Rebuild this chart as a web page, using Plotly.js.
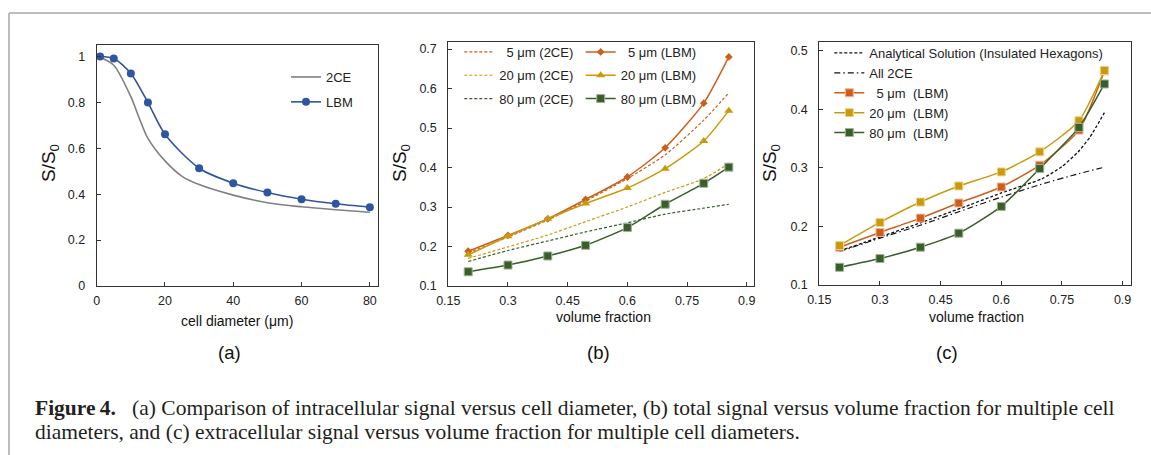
<!DOCTYPE html>
<html>
<head>
<meta charset="utf-8">
<script src="https://cdn.plot.ly/plotly-3.0.1.min.js"></script>
<style>
  html, body { margin: 0; padding: 0; background: #ffffff; }
  #chart { width: 1151px; height: 455px; }
</style>
</head>
<body>
<div id="chart"></div>
<script>
// ---------- Data ----------
// Panel (a): signal vs cell diameter
const diamLBM = [1, 5, 10, 15, 20, 30, 40, 50, 60, 70, 80];
const lbmA    = [1.0, 0.991, 0.926, 0.799, 0.661, 0.513, 0.448, 0.407, 0.378, 0.358, 0.343];
const diam2CE = [1, 5, 10, 12.5, 15, 20, 25, 30, 40, 50, 60, 70, 80];
const ce2A    = [0.997, 0.962, 0.825, 0.73, 0.643, 0.545, 0.478, 0.442, 0.396, 0.363, 0.345, 0.332, 0.321];

// Panel (b): total signal vs volume fraction
const volFrac = [0.2, 0.3, 0.4, 0.495, 0.6, 0.695, 0.792, 0.855];
const lbm5B  = [0.188, 0.228, 0.270, 0.319, 0.376, 0.450, 0.563, 0.680];
const lbm20B = [0.179, 0.226, 0.270, 0.309, 0.348, 0.397, 0.467, 0.544];
const lbm80B = [0.136, 0.153, 0.176, 0.203, 0.248, 0.307, 0.360, 0.401];
const ce5B   = [0.184, 0.224, 0.267, 0.315, 0.372, 0.432, 0.520, 0.589];
const ce20B  = [0.170, 0.199, 0.229, 0.263, 0.300, 0.337, 0.372, 0.410];
const ce80B  = [0.162, 0.190, 0.214, 0.237, 0.260, 0.282, 0.297, 0.307];

// Panel (c): extracellular signal vs volume fraction
const lbm5C  = [0.1645, 0.1896, 0.2141, 0.2398, 0.2672, 0.3043, 0.3642, 0.4652];
const lbm20C = [0.1673, 0.2067, 0.2415, 0.2689, 0.2929, 0.3271, 0.3802, 0.4660];
const lbm80C = [0.1302, 0.1451, 0.1645, 0.1884, 0.2341, 0.2986, 0.3688, 0.4429];
const analyticX = [0.2, 0.3, 0.4, 0.5, 0.6, 0.7, 0.75, 0.79, 0.82, 0.855];
const analyticY = [0.158, 0.182, 0.206, 0.231, 0.257, 0.281, 0.302, 0.327, 0.353, 0.394];
const all2CE    = [0.157, 0.180, 0.202, 0.225, 0.250, 0.271, 0.290, 0.301];

// Labels
const namesA = ['2CE', 'LBM'];
const names2CE_B = ['\u20075 μm (2CE)', '20 μm (2CE)', '80 μm (2CE)'];
const namesLBM_B = ['\u20075 μm (LBM)', '20 μm (LBM)', '80 μm (LBM)'];
const namesC = ['Analytical Solution (Insulated Hexagons)', 'All 2CE',
                '\u20075 μm\u00a0\u00a0(LBM)', '20 μm\u00a0\u00a0(LBM)', '80 μm\u00a0\u00a0(LBM)'];
const panelLabels = ['(a)', '(b)', '(c)'];
const captionLine1 = '<b>Figure\u20094.</b>\u2002 (a) Comparison of intracellular signal versus cell diameter, (b) total signal versus volume fraction for multiple cell';
const captionLine2 = 'diameters, and (c) extracellular signal versus volume fraction for multiple cell diameters.';

// ---------- Styling ----------
const W = 1151, H = 455;
const px = x => x / W;
const py = y => 1 - y / H;
const SANS = 'Liberation Sans, Arial, sans-serif';
const SERIF = 'Liberation Serif, Times New Roman, serif';
const BLUE = '#2F55A0', GRAY = '#808080';
const ORANGE = '#CC5F1C', GOLD = '#C99A0C', GREEN = '#3A5E2A';

const traces = [
  // Panel (a)
  { x: diam2CE, y: ce2A, name: namesA[0], xaxis: 'x', yaxis: 'y', mode: 'lines',
    line: { color: GRAY, width: 1.6, shape: 'spline', smoothing: 0.8 },
    legend: 'legend', legendgroup: 'a1' },
  { x: diamLBM, y: lbmA, name: namesA[1], xaxis: 'x', yaxis: 'y', mode: 'lines+markers',
    line: { color: BLUE, width: 1.6, shape: 'spline', smoothing: 0.8 },
    marker: { symbol: 'circle', size: 8, color: BLUE },
    legend: 'legend', legendgroup: 'a2' },

  // Panel (b) 2CE dashed
  { x: volFrac, y: ce5B, name: names2CE_B[0], xaxis: 'x2', yaxis: 'y2', mode: 'lines',
    line: { color: ORANGE, width: 1.2, dash: '3px,2px', shape: 'spline', smoothing: 0.6 },
    legend: 'legend2', legendgroup: 'b1' },
  { x: volFrac, y: ce20B, name: names2CE_B[1], xaxis: 'x2', yaxis: 'y2', mode: 'lines',
    line: { color: GOLD, width: 1.2, dash: '3px,2px', shape: 'spline', smoothing: 0.6 },
    legend: 'legend2', legendgroup: 'b2' },
  { x: volFrac, y: ce80B, name: names2CE_B[2], xaxis: 'x2', yaxis: 'y2', mode: 'lines',
    line: { color: GREEN, width: 1.2, dash: '3px,2px', shape: 'spline', smoothing: 0.6 },
    legend: 'legend2', legendgroup: 'b3' },
  // Panel (b) LBM
  { x: volFrac, y: lbm5B, name: namesLBM_B[0], xaxis: 'x2', yaxis: 'y2', mode: 'lines+markers',
    line: { color: ORANGE, width: 1.5, shape: 'spline', smoothing: 0.6 },
    marker: { symbol: 'diamond', size: 6, color: ORANGE },
    legend: 'legend3', legendgroup: 'b4' },
  { x: volFrac, y: lbm20B, name: namesLBM_B[1], xaxis: 'x2', yaxis: 'y2', mode: 'lines+markers',
    line: { color: GOLD, width: 1.5, shape: 'spline', smoothing: 0.6 },
    marker: { symbol: 'triangle-up', size: 8, color: GOLD },
    legend: 'legend3', legendgroup: 'b5' },
  { x: volFrac, y: lbm80B, name: namesLBM_B[2], xaxis: 'x2', yaxis: 'y2', mode: 'lines+markers',
    line: { color: GREEN, width: 1.5, shape: 'spline', smoothing: 0.6 },
    marker: { symbol: 'square', size: 8, color: GREEN, line: { color: '#9fb394', width: 1 } },
    legend: 'legend3', legendgroup: 'b6' },

  // Panel (c)
  { x: analyticX, y: analyticY, name: namesC[0], xaxis: 'x3', yaxis: 'y3', mode: 'lines',
    line: { color: '#111', width: 1.3, dash: '3px,2px', shape: 'spline', smoothing: 0.5 },
    legend: 'legend4', legendgroup: 'c1' },
  { x: volFrac, y: all2CE, name: namesC[1], xaxis: 'x3', yaxis: 'y3', mode: 'lines',
    line: { color: '#111', width: 1.2, dash: '6px,3px,1.5px,3px', shape: 'spline', smoothing: 0.6 },
    legend: 'legend4', legendgroup: 'c2' },
  { x: volFrac, y: lbm5C, name: namesC[2], xaxis: 'x3', yaxis: 'y3', mode: 'lines+markers',
    line: { color: ORANGE, width: 1.5, shape: 'spline', smoothing: 0.6 },
    marker: { symbol: 'square', size: 8, color: ORANGE, line: { color: '#f0b896', width: 1 } },
    legend: 'legend4', legendgroup: 'c3' },
  { x: volFrac, y: lbm20C, name: namesC[3], xaxis: 'x3', yaxis: 'y3', mode: 'lines+markers',
    line: { color: GOLD, width: 1.5, shape: 'spline', smoothing: 0.6 },
    marker: { symbol: 'square', size: 8, color: GOLD, line: { color: '#ecd48f', width: 1 } },
    legend: 'legend4', legendgroup: 'c4' },
  { x: volFrac, y: lbm80C, name: namesC[4], xaxis: 'x3', yaxis: 'y3', mode: 'lines+markers',
    line: { color: GREEN, width: 1.5, shape: 'spline', smoothing: 0.6 },
    marker: { symbol: 'square', size: 8, color: GREEN, line: { color: '#9fb394', width: 1 } },
    legend: 'legend4', legendgroup: 'c5' }
];

const tickFont = { family: SANS, size: 12.5, color: '#222' };
function axisBase(extra) {
  return Object.assign({
    showline: true, mirror: true, linecolor: '#333', linewidth: 1,
    ticks: 'inside', ticklen: 4, tickcolor: '#333', tickwidth: 1,
    showgrid: false, zeroline: false, tickfont: tickFont, fixedrange: true
  }, extra);
}

const legFont = { family: SANS, size: 13, color: '#222' };
function legendBase(xPx, yTopPx, gap) {
  return {
    x: px(xPx), y: py(yTopPx), xref: 'paper', yref: 'paper',
    xanchor: 'left', yanchor: 'top', bgcolor: 'rgba(0,0,0,0)', borderwidth: 0,
    font: legFont, traceorder: 'grouped', tracegroupgap: gap, itemwidth: 30
  };
}

const annFont = (size) => ({ family: SANS, size: size, color: '#111' });
const annotations = [
  // y-axis titles
  { text: 'S/S<sub>0</sub>', x: px(50), y: py(163), xref: 'paper', yref: 'paper',
    textangle: -90, showarrow: false, font: annFont(19), xanchor: 'center', yanchor: 'middle' },
  { text: 'S/S<sub>0</sub>', x: px(401), y: py(163), xref: 'paper', yref: 'paper',
    textangle: -90, showarrow: false, font: annFont(19), xanchor: 'center', yanchor: 'middle' },
  { text: 'S/S<sub>0</sub>', x: px(771), y: py(163), xref: 'paper', yref: 'paper',
    textangle: -90, showarrow: false, font: annFont(19), xanchor: 'center', yanchor: 'middle' },
  // x-axis titles
  { text: 'cell diameter (μm)', x: px(237), y: py(321), xref: 'paper', yref: 'paper',
    showarrow: false, font: annFont(14), xanchor: 'center', yanchor: 'middle' },
  { text: 'volume fraction', x: px(603.5), y: py(317), xref: 'paper', yref: 'paper',
    showarrow: false, font: annFont(14), xanchor: 'center', yanchor: 'middle' },
  { text: 'volume fraction', x: px(976.5), y: py(317), xref: 'paper', yref: 'paper',
    showarrow: false, font: annFont(14), xanchor: 'center', yanchor: 'middle' },
  // panel labels
  { text: panelLabels[0], x: px(229), y: py(352), xref: 'paper', yref: 'paper',
    showarrow: false, font: annFont(18.5), xanchor: 'center', yanchor: 'middle' },
  { text: panelLabels[1], x: px(598), y: py(352), xref: 'paper', yref: 'paper',
    showarrow: false, font: annFont(18.5), xanchor: 'center', yanchor: 'middle' },
  { text: panelLabels[2], x: px(947), y: py(352), xref: 'paper', yref: 'paper',
    showarrow: false, font: annFont(18.5), xanchor: 'center', yanchor: 'middle' },
  // caption
  { text: captionLine1, x: px(33), y: py(408), xref: 'paper', yref: 'paper',
    showarrow: false, font: { family: SERIF, size: 21.5, color: '#231f20' }, xanchor: 'left', yanchor: 'middle' },
  { text: captionLine2, x: px(33), y: py(432), xref: 'paper', yref: 'paper',
    showarrow: false, font: { family: SERIF, size: 21.5, color: '#231f20' }, xanchor: 'left', yanchor: 'middle' }
];

const layout = {
  width: W, height: H,
  margin: { l: 0, r: 0, t: 0, b: 0 },
  paper_bgcolor: '#ffffff', plot_bgcolor: '#ffffff',
  showlegend: true,
  xaxis: axisBase({ domain: [px(96.7), px(377.7)], range: [0, 82.3], tick0: 0, dtick: 20, anchor: 'y', ticklabelstandoff: 3 }),
  yaxis: axisBase({ domain: [py(286), py(45)], range: [0, 1.05], tick0: 0, dtick: 0.2, anchor: 'x', ticklabelstandoff: 8 }),
  xaxis2: axisBase({ domain: [px(448.3), px(754.3)], range: [0.15, 0.919], tick0: 0.15, dtick: 0.15, anchor: 'y2', ticklabelstandoff: 3 }),
  yaxis2: axisBase({ domain: [py(286), py(41.7)], range: [0.1, 0.7186], tick0: 0.1, dtick: 0.1, anchor: 'x2', ticklabelstandoff: 8 }),
  xaxis3: axisBase({ domain: [px(819.3), px(1130.7)], range: [0.15, 0.92], tick0: 0.15, dtick: 0.15, anchor: 'y3', ticklabelstandoff: 3 }),
  yaxis3: axisBase({ domain: [py(285), py(42.3)], range: [0.1, 0.514], tick0: 0.1, dtick: 0.1, anchor: 'x3', ticklabelstandoff: 8 }),
  legend:  legendBase(286, 62, 5),
  legend2: legendBase(459.3, 37, 3.4),
  legend3: legendBase(580.7, 37, 3.4),
  legend4: legendBase(829.3, 38, 0),
  annotations: annotations,
  shapes: [
    { type: 'line', xref: 'paper', yref: 'paper', x0: px(9), x1: 1, y0: py(13), y1: py(13),
      line: { color: '#bdbdbd', width: 2 } },
    { type: 'line', xref: 'paper', yref: 'paper', x0: px(9), x1: px(9), y0: py(13), y1: 0,
      line: { color: '#bdbdbd', width: 2 } }
  ]
};

Plotly.newPlot('chart', traces, layout, { displayModeBar: false, staticPlot: true });
</script>
</body>
</html>
